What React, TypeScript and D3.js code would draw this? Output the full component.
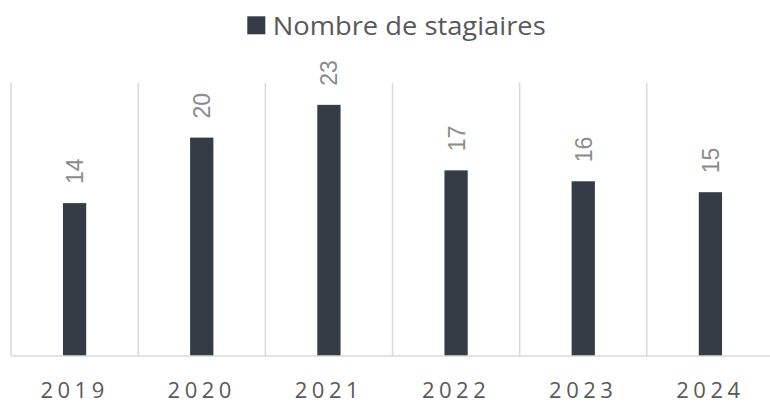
import React from "react";
import * as d3 from "d3";

const categories: string[] = ["2019", "2020", "2021", "2022", "2023", "2024"];
const values: number[] = [14, 20, 23, 17, 16, 15];
const seriesName = "Nombre de stagiaires";
const yDomain: [number, number] = [0, 25];

const W = 770;
const H = 404;
const plotLeft = 11;
const plotRight = 774;
const plotTop = 83;
const plotBottom = 356;
const barColor = "#343d46";
const gridColor = "#d9d9d9";

export default function App() {
  const x = d3
    .scaleBand<string>()
    .domain(categories)
    .range([plotLeft, plotRight])
    .paddingInner(0)
    .paddingOuter(0);
  const y = d3.scaleLinear().domain(yDomain).range([plotBottom, plotTop]);
  const bw = x.bandwidth() * 0.183;
  const boundaries = [...categories.map((c) => x(c)!), plotRight];

  return (
    <svg
      width={W}
      height={H}
      style={{ position: "absolute", left: 0, top: 0, background: "#fff" }}
    >
      {/* legend */}
      <rect x={247.3} y={16.3} width={18} height={18} fill={barColor} />
      <text
        x={272.7}
        y={35}
        fontFamily="'Open Sans', sans-serif"
        fontSize={26}
        fill="#595959"
        textLength={273}
        lengthAdjust="spacingAndGlyphs"
      >
        {seriesName}
      </text>

      {/* vertical gridlines */}
      {boundaries.map((bx, i) => (
        <line
          key={i}
          x1={bx}
          x2={bx}
          y1={plotTop}
          y2={plotBottom}
          stroke={gridColor}
          strokeWidth={1.5}
        />
      ))}

      {/* bars */}
      {categories.map((c, i) => {
        const cx = x(c)! + x.bandwidth() / 2;
        return (
          <rect
            key={c}
            x={cx - bw / 2}
            y={y(values[i])}
            width={bw}
            height={plotBottom - y(values[i])}
            fill={barColor}
          />
        );
      })}

      {/* baseline */}
      <line
        x1={plotLeft}
        x2={plotRight}
        y1={plotBottom}
        y2={plotBottom}
        stroke={gridColor}
        strokeWidth={1.5}
      />

      {/* data labels */}
      {categories.map((c, i) => {
        const cx = x(c)! + x.bandwidth() / 2;
        const ty = y(values[i]) - 19;
        return (
          <text
            key={c}
            transform={`translate(${cx + 8.5},${ty}) rotate(-90)`}
            fontFamily="'Liberation Sans', Arial, sans-serif"
            fontSize={23}
            fill="#8c8c8c"
          >
            {values[i]}
          </text>
        );
      })}

      {/* x axis labels */}
      {categories.map((c) => {
        const cx = x(c)! + x.bandwidth() / 2;
        return (
          <text
            key={c}
            x={cx}
            y={397.5}
            textAnchor="middle"
            fontFamily="'Open Sans', sans-serif"
            fontSize={22}
            fill="#595959"
            letterSpacing={4.5}
          >
            {c}
          </text>
        );
      })}
    </svg>
  );
}
